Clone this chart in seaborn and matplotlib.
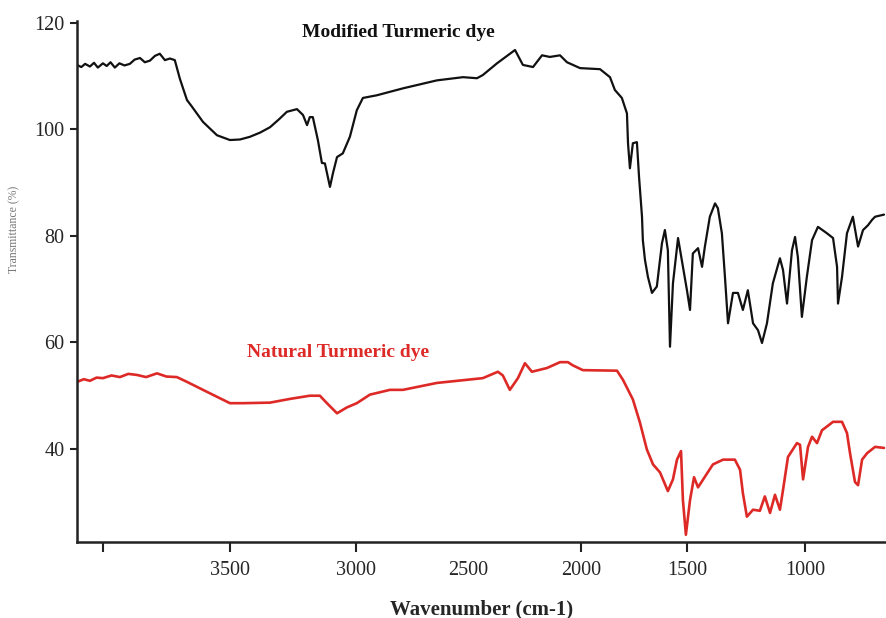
import numpy as np
import pandas as pd
import matplotlib
matplotlib.use('Agg')
import matplotlib.pyplot as plt
import seaborn as sns

# FTIR spectra (wavenumber in cm-1, transmittance)
modified_wn = [4102, 4085, 4070, 4051, 4035, 4020, 4000, 3985, 3970, 3953,
               3935, 3915, 3894, 3875, 3854, 3835, 3815, 3795, 3776, 3756,
               3736, 3717,
               3697, 3669, 3650, 3606, 3551, 3500, 3460, 3421, 3380, 3341,
               3305, 3274, 3234,
               3210, 3194, 3183, 3171, 3151, 3135, 3123, 3103, 3091, 3075,
               3052, 3024, 2996, 2969, 2907, 2791, 2640, 2524, 2462, 2436,
               2373, 2293, 2258, 2213, 2173, 2138, 2093, 2062, 2004, 1910,
               1863, 1840, 1807, 1783, 1778, 1769, 1755, 1736, 1726, 1712,
               1708, 1698, 1684, 1665, 1642, 1618, 1604, 1590, 1580, 1566,
               1542, 1524, 1500, 1487, 1475, 1453, 1436, 1424, 1403, 1381,
               1369, 1352, 1339, 1326, 1305, 1284, 1263, 1242, 1220, 1199,
               1182, 1161, 1136, 1106, 1093, 1076, 1055, 1042, 1030, 1013,
               992, 970, 945, 907, 881, 864, 860, 843, 822, 797,
               775, 754, 733, 716, 703, 665]
modified_t = [112.1, 111.7, 112.3, 111.8, 112.5, 111.6, 112.4, 111.9, 112.6, 111.6,
              112.4, 112.0, 112.3, 113.1, 113.4, 112.6, 112.9, 113.8, 114.2, 113.0,
              113.3, 113.0,
              109.5, 105.5, 104.3, 101.4, 98.9, 98.0, 98.1, 98.6, 99.4, 100.4,
              101.9, 103.3, 103.8,
              102.7, 100.8, 102.3, 102.3, 98.0, 93.7, 93.6, 89.2, 91.8, 94.8,
              95.5, 98.6, 103.6, 105.9, 106.4, 107.7, 109.2, 109.8, 109.6, 110.2,
              112.4, 114.9, 112.1, 111.7, 113.9, 113.6, 113.9, 112.6, 111.5, 111.3,
              109.8, 107.4, 105.9, 103.0, 97.4, 92.7, 97.4, 97.6, 91.1, 83.6,
              79.2, 75.5, 72.3, 69.3, 70.5, 78.6, 81.1, 77.3, 59.2, 71.1,
              79.6, 75.4, 69.8, 66.1, 76.7, 77.7, 74.2, 78.0, 83.6, 86.1,
              85.2, 80.5, 72.3, 63.6, 69.3, 69.3, 66.1, 69.8, 63.6, 62.3,
              59.9, 63.6, 71.1, 75.8, 73.6, 67.3, 77.3, 79.8, 76.0, 64.8,
              72.3, 79.2, 81.7, 80.5, 79.6, 74.2, 67.3, 72.3, 80.5, 83.6,
              78.0, 81.1, 82.0, 83.0, 83.6, 84.0]

natural_wn = [4102, 4075, 4051, 4025, 4000, 3966, 3933, 3900, 3866, 3830,
              3787, 3750, 3709, 3669, 3606, 3551,
              3500, 3448, 3341, 3262, 3183, 3143, 3115, 3075, 3036, 2996,
              2938, 2849, 2791, 2640, 2436, 2369, 2347, 2316, 2280, 2249,
              2218, 2151, 2093, 2058, 2036, 1991, 1830, 1802, 1755, 1722,
              1689, 1660, 1627, 1590, 1566, 1547, 1528, 1519, 1505, 1487,
              1470, 1453, 1415, 1390, 1347, 1297, 1275, 1263, 1246, 1220,
              1191, 1170, 1148, 1127, 1106, 1093, 1072, 1034, 1021, 1008,
              987, 970, 949, 928, 881, 843, 822, 809, 788, 775,
              758, 737, 703, 665]
natural_t = [52.6, 53.1, 52.8, 53.4, 53.3, 53.8, 53.5, 54.1, 53.9, 53.5,
             54.2, 53.6, 53.5, 52.6, 51.1, 49.8,
             48.6, 48.6, 48.7, 49.4, 50.0, 50.0, 48.6, 46.7, 47.8, 48.6,
             50.2, 51.1, 51.1, 52.4, 53.3, 54.5, 53.8, 51.1, 53.3, 56.1,
             54.5, 55.2, 56.3, 56.3, 55.7, 54.8, 54.7, 53.0, 49.3, 45.0,
             39.9, 37.1, 35.6, 32.1, 34.3, 38.0, 39.6, 30.4, 23.9, 30.4,
             34.7, 32.8, 35.4, 37.1, 38.0, 38.0, 36.1, 31.7, 27.3, 28.6,
             28.4, 31.1, 28.0, 31.4, 28.6, 32.3, 38.5, 41.1, 40.8, 34.3,
             40.4, 42.3, 41.1, 43.5, 45.1, 45.1, 43.0, 39.2, 33.8, 33.2,
             38.0, 39.2, 40.4, 40.2]

x_ticks = [4000, 3500, 3000, 2500, 2000, 1500, 1000]
x_tick_labels = ['', '3500', '3000', '2500', '2000', '1500', '1000']
y_ticks = [40, 60, 80, 100, 120]

# the original axis is not evenly spaced; relative tick spacing per block
axis_wn = np.array([0, 1000, 1500, 2000, 3000, 3500, 4000, 5000])
axis_pos = np.array([-1041, -805, -687, -581, -356, -230, -103, 151])


def fwd(w):
    return np.interp(np.asarray(w, dtype=float), axis_wn, axis_pos)


def inv(p):
    return np.interp(np.asarray(p, dtype=float), axis_pos, axis_wn)


RED = '#dd2a27'

sns.set_style('ticks')
plt.rcParams['font.family'] = ['Liberation Serif', 'DejaVu Serif']

fig = plt.figure(figsize=(8.86, 6.18), dpi=100)
ax = fig.add_axes([0.0869, 0.1235, 0.913, 0.843])

df_mod = pd.DataFrame({'wn': modified_wn, 't': modified_t})
df_nat = pd.DataFrame({'wn': natural_wn, 't': natural_t})

sns.lineplot(data=df_mod, x='wn', y='t', color='#111111', linewidth=1.6, ax=ax)
sns.lineplot(data=df_nat, x='wn', y='t', color=RED, linewidth=1.9, ax=ax)

ax.set_xscale('function', functions=(fwd, inv))
ax.set_xlim(4102, 657)
ax.set_ylim(22.6, 120.4)

ax.set_xticks(x_ticks)
ax.set_xticklabels(x_tick_labels)
ax.set_yticks(y_ticks)
ax.xaxis.set_minor_locator(matplotlib.ticker.NullLocator())
ax.xaxis.get_major_ticks()[3].tick1line.set_visible(False)

ax.tick_params(axis='x', direction='out', length=7, width=1.5, pad=7,
               labelsize=14.5, color='#222222')
ax.tick_params(axis='y', direction='out', length=5, width=1.5, pad=4,
               labelsize=14.5, color='#222222')

sns.despine(ax=ax)
for side in ['left', 'bottom']:
    ax.spines[side].set_linewidth(1.8)
    ax.spines[side].set_color('#222222')

ax.set_xlabel('Wavenumber (cm-1)', fontsize=15, fontweight='bold', labelpad=14)
ax.set_ylabel('Transmittance (%)', fontsize=8.5, color='#777777')
ax.yaxis.set_label_coords(-0.07, 0.6)

ax.text(2813, 118.1, 'Modified Turmeric dye', fontsize=14, fontweight='bold',
        color='#111111', ha='center', va='center')
ax.text(3071, 58.2, 'Natural Turmeric dye', fontsize=14, fontweight='bold',
        color=RED, ha='center', va='center')

fig.savefig('out.png', dpi=100)
